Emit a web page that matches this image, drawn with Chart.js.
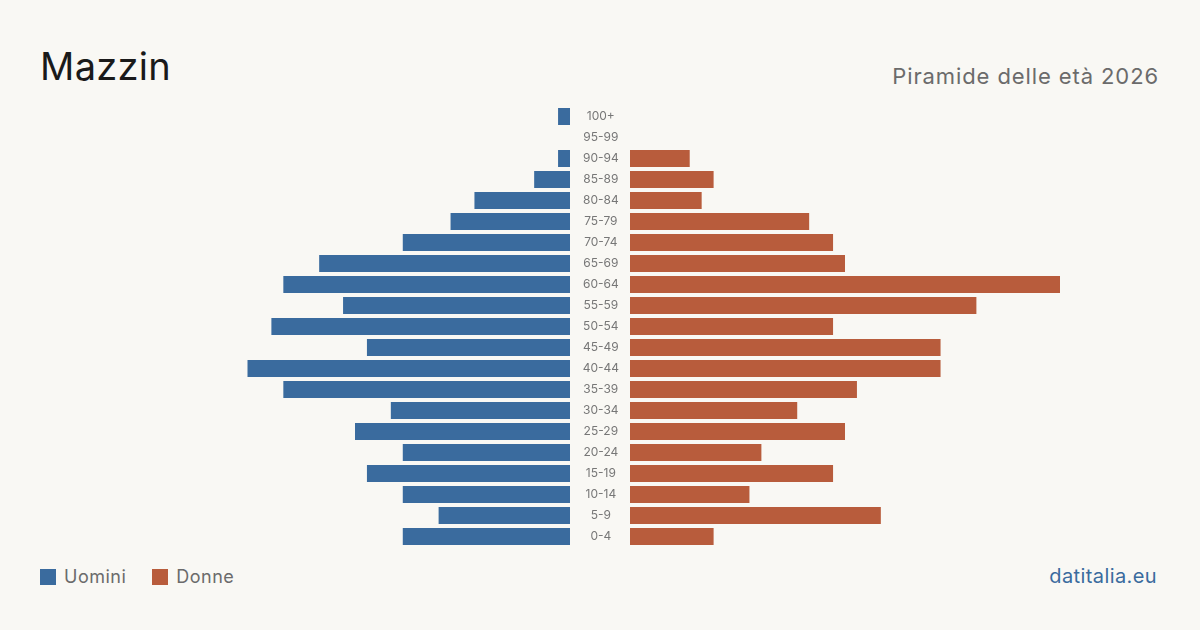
<!DOCTYPE html>
<html>
<head>
<meta charset="utf-8">
<script src="https://cdn.jsdelivr.net/npm/chart.js@4"></script>
<style>
  body { margin: 0; background: #f9f8f4; font-family: Inter, "Noto Sans", sans-serif; }
  #wrap { position: relative; width: 1200px; height: 630px; overflow: hidden; }
  .title { position: absolute; left: 40px; top: 47px; font-size: 38px; color: #1a1a1a; line-height: 1; letter-spacing: 0.3px; }
  .subtitle { position: absolute; right: 41px; top: 65px; font-size: 22px; color: #6b6b6b; line-height: 1; letter-spacing: 0.9px; }
  .legend { position: absolute; left: 40px; top: 566px; font-size: 18px; color: #6b6b6b; display: flex; align-items: center; letter-spacing: 0.5px; }
  .legend span.sw { display: inline-block; width: 16px; height: 16px; margin-right: 8px; }
  .legend .item { display: flex; align-items: center; margin-right: 26px; }
  .source { position: absolute; right: 43px; top: 564px; font-size: 20px; color: #3a6b9e; letter-spacing: 0.4px; }
  #left { position: absolute; left: 140px; top: 106px; }
  #right { position: absolute; left: 570px; top: 106px; }
</style>
</head>
<body>
<div id="wrap">
  <div class="title">Mazzin</div>
  <div class="subtitle">Piramide delle età 2026</div>
  <canvas id="left" width="430" height="441"></canvas>
  <canvas id="right" width="490" height="441"></canvas>
  <div class="legend">
    <div class="item"><span class="sw" style="background:#3a6b9e"></span>Uomini</div>
    <div class="item"><span class="sw" style="background:#b85c3c"></span>Donne</div>
  </div>
  <div class="source">datitalia.eu</div>
</div>
<script>
// ================== DATA ================ //
const FASCE = ["100+", "95-99", "90-94", "85-89", "80-84", "75-79", "70-74", "65-69", "60-64", "55-59",
  "50-54", "45-49", "40-44", "35-39", "30-34", "25-29", "20-24", "15-19", "10-14", "5-9", "0-4"];
const UOMINI = [1, 0, 1, 3, 8, 10, 14, 21, 24, 19, 25, 17, 27, 24, 15, 18, 14, 17, 14, 11, 14];
const DONNE = [0, 0, 5, 7, 6, 15, 17, 18, 36, 29, 17, 26, 26, 19, 14, 18, 11, 17, 10, 21, 7];
const MAX_X = 36;

const COLOR_UOMINI = "#3a6b9e";
const COLOR_DONNE = "#b85c3c";

Chart.defaults.font.family = "Inter, 'Noto Sans', sans-serif";
Chart.defaults.animation = false;

function baseOptions(reverse) {
  return {
    indexAxis: "y",
    responsive: false,
    maintainAspectRatio: false,
    layout: { padding: 0 },
    plugins: { legend: { display: false }, tooltip: { enabled: false } },
    scales: {
      x: {
        display: false,
        min: 0,
        max: MAX_X,
        reverse: reverse,
      },
      y: { display: false },
    },
  };
}

// ================== Uomini (sinistra) ================ //
new Chart(document.getElementById("left"), {
  type: "bar",
  data: {
    labels: FASCE,
    datasets: [{
      label: "Uomini",
      data: UOMINI,
      backgroundColor: COLOR_UOMINI,
      barPercentage: 0.81,
      categoryPercentage: 1,
    }],
  },
  options: baseOptions(true),
});

// ================== Donne (destra) + etichette ================ //
const optsRight = baseOptions(false);
optsRight.scales.y = {
  display: true,
  position: "left",
  grid: { display: false, drawTicks: false },
  border: { display: false },
  afterFit: (scale) => {
    scale.width = 60;
    scale.paddingTop = 0;
    scale.paddingBottom = 0;
  },
  ticks: {
    crossAlign: "center",
    padding: 11,
    color: "#777777",
    font: { size: 12 },
  },
};

new Chart(document.getElementById("right"), {
  type: "bar",
  data: {
    labels: FASCE,
    datasets: [{
      label: "Donne",
      data: DONNE,
      backgroundColor: COLOR_DONNE,
      barPercentage: 0.81,
      categoryPercentage: 1,
    }],
  },
  options: optsRight,
});
</script>
</body>
</html>
